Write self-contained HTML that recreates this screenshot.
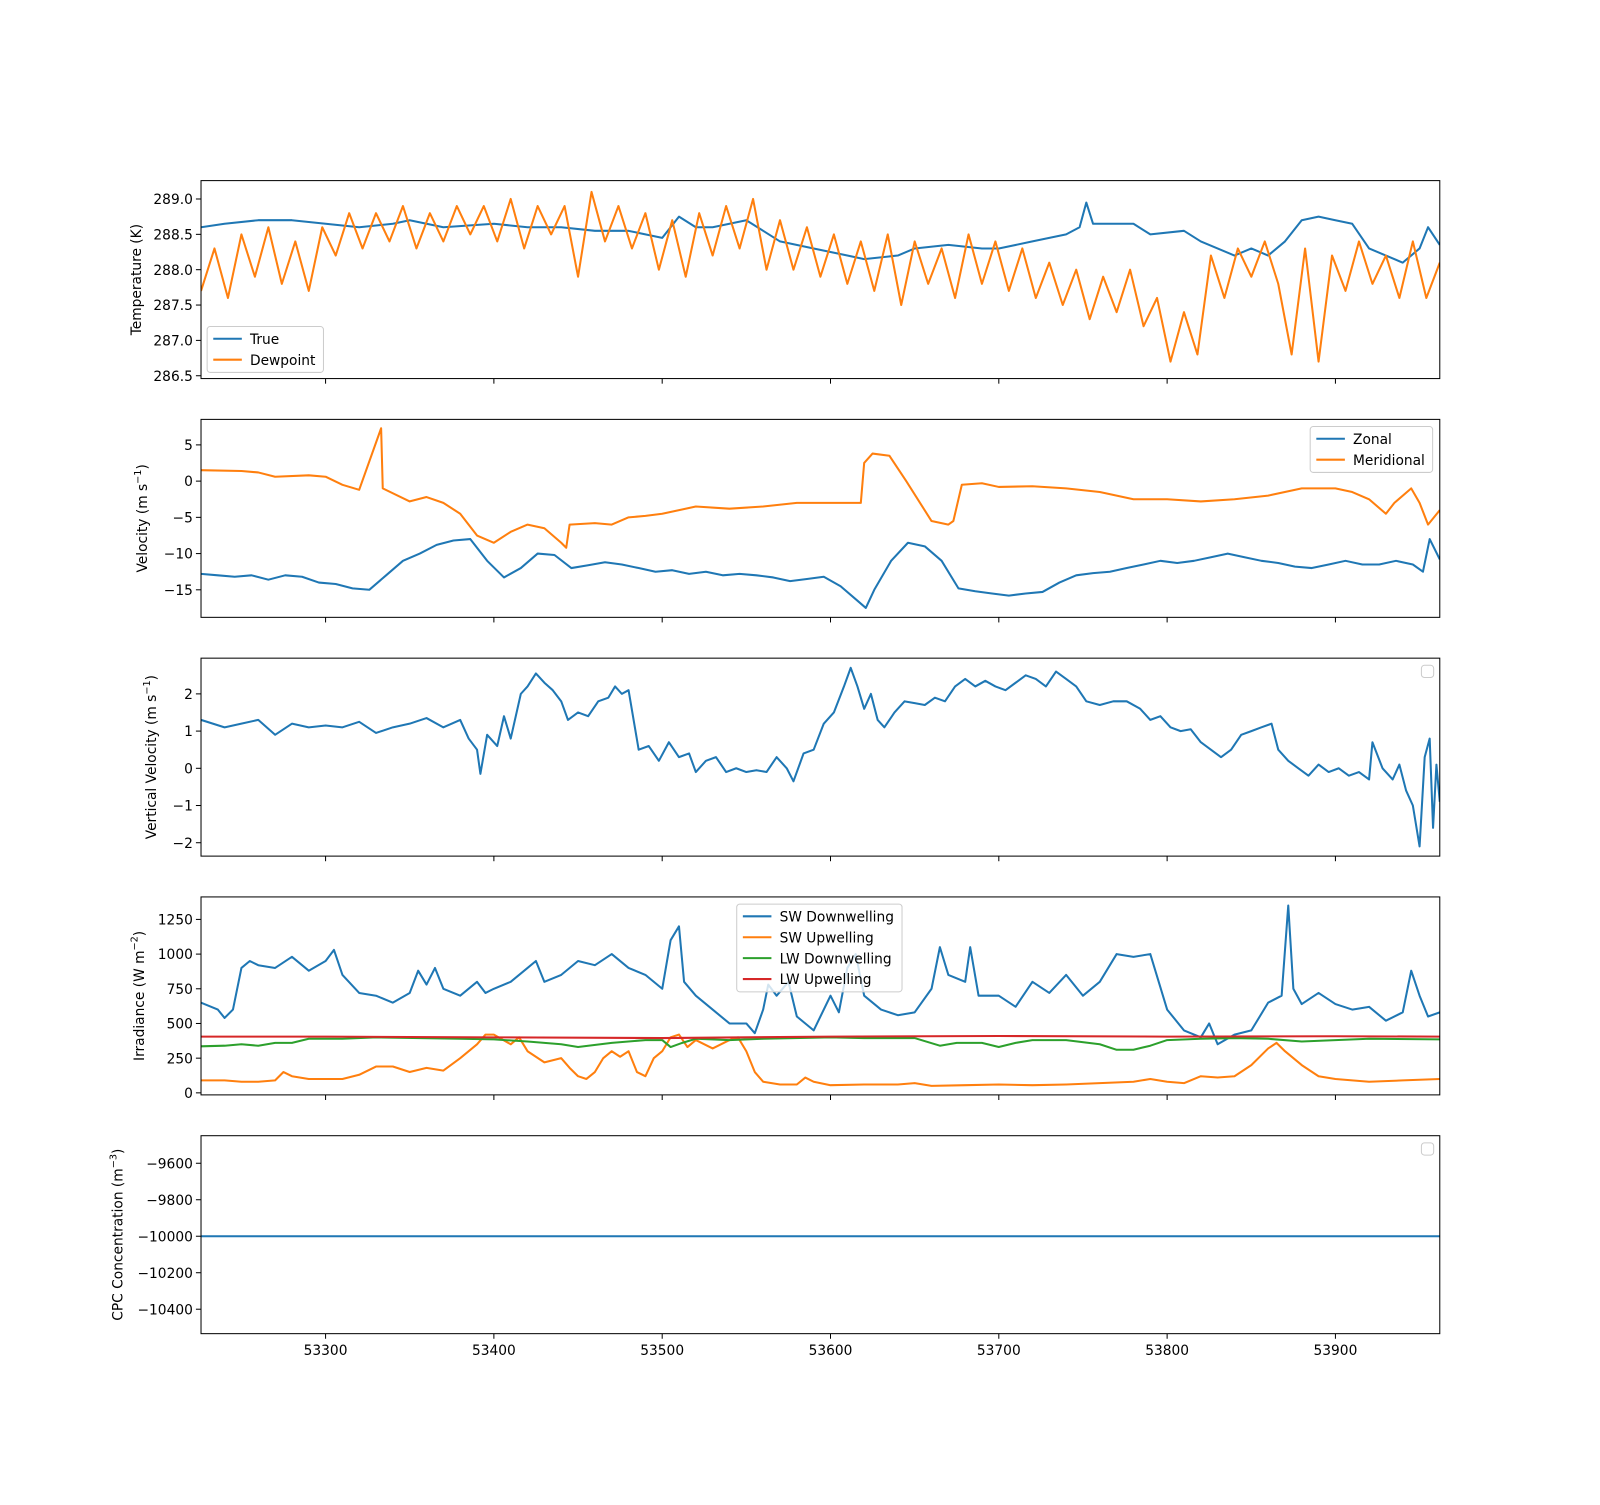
<!DOCTYPE html>
<html><head><meta charset="utf-8"><style>
html,body{margin:0;padding:0;background:#fff}
svg text{font-family:"DejaVu Sans","Liberation Sans",sans-serif;font-size:13.5px;fill:#000}
</style></head><body>
<svg id="fig" width="1600" height="1500" xmlns="http://www.w3.org/2000/svg"><g id="root" transform="scale(1.0204)"></g></svg>
<script>
// ---------- data ----------
const xTicks=[53300,53400,53500,53600,53700,53800,53900];
const tempTrueT=[53226,53240,53260,53280,53300,53320,53340,53350,53370,53400,53420,53440,53460,53480,53490,53500,53510,53520,53530,53550,53560,53570,53590,53610,53620,53640,53650,53670,53690,53700,53720,53740,53748,53752,53756,53760,53780,53790,53810,53820,53840,53850,53860,53870,53880,53890,53900,53910,53920,53930,53940,53950,53955,53962];
const tempTrueV=[288.6,288.65,288.7,288.7,288.65,288.6,288.65,288.7,288.6,288.65,288.6,288.6,288.55,288.55,288.5,288.45,288.75,288.6,288.6,288.7,288.55,288.4,288.3,288.2,288.15,288.2,288.3,288.35,288.3,288.3,288.4,288.5,288.6,288.95,288.65,288.65,288.65,288.5,288.55,288.4,288.2,288.3,288.2,288.4,288.7,288.75,288.7,288.65,288.3,288.2,288.1,288.3,288.6,288.35];
const dewT=[53226,53234,53242,53250,53258,53266,53274,53282,53290,53298,53306,53314,53322,53330,53338,53346,53354,53362,53370,53378,53386,53394,53402,53410,53418,53426,53434,53442,53450,53458,53466,53474,53482,53490,53498,53506,53514,53522,53530,53538,53546,53554,53562,53570,53578,53586,53594,53602,53610,53618,53626,53634,53642,53650,53658,53666,53674,53682,53690,53698,53706,53714,53722,53730,53738,53746,53754,53762,53770,53778,53786,53794,53802,53810,53818,53826,53834,53842,53850,53858,53866,53874,53882,53890,53898,53906,53914,53922,53930,53938,53946,53954,53962];
const dewV=[287.7,288.3,287.6,288.5,287.9,288.6,287.8,288.4,287.7,288.6,288.2,288.8,288.3,288.8,288.4,288.9,288.3,288.8,288.4,288.9,288.5,288.9,288.4,289.0,288.3,288.9,288.5,288.9,287.9,289.1,288.4,288.9,288.3,288.8,288.0,288.7,287.9,288.8,288.2,288.9,288.3,289.0,288.0,288.7,288.0,288.6,287.9,288.5,287.8,288.4,287.7,288.5,287.5,288.4,287.8,288.3,287.6,288.5,287.8,288.4,287.7,288.3,287.6,288.1,287.5,288.0,287.3,287.9,287.4,288.0,287.2,287.6,286.7,287.4,286.8,288.2,287.6,288.3,287.9,288.4,287.8,286.8,288.3,286.7,288.2,287.7,288.4,287.8,288.2,287.6,288.4,287.6,288.1];
const zonalT=[53226,53236,53246,53256,53266,53276,53286,53296,53306,53316,53326,53336,53346,53356,53366,53376,53386,53396,53406,53416,53426,53436,53446,53456,53466,53476,53486,53496,53506,53516,53526,53536,53546,53556,53566,53576,53586,53596,53606,53616,53621,53626,53636,53646,53656,53666,53676,53686,53696,53706,53716,53726,53736,53746,53756,53766,53776,53786,53796,53806,53816,53826,53836,53846,53856,53866,53876,53886,53896,53906,53916,53926,53936,53946,53952,53956,53962];
const zonalV=[-12.8,-13,-13.2,-13,-13.6,-13,-13.2,-14,-14.2,-14.8,-15,-13,-11,-10,-8.8,-8.2,-8,-11,-13.3,-12,-10,-10.2,-12,-11.6,-11.2,-11.5,-12,-12.5,-12.3,-12.8,-12.5,-13,-12.8,-13,-13.3,-13.8,-13.5,-13.2,-14.5,-16.5,-17.5,-15,-11,-8.5,-9,-11,-14.8,-15.2,-15.5,-15.8,-15.5,-15.3,-14,-13,-12.7,-12.5,-12,-11.5,-11,-11.3,-11,-10.5,-10,-10.5,-11,-11.3,-11.8,-12,-11.5,-11,-11.5,-11.5,-11,-11.5,-12.5,-8,-10.8];
const meridT=[53226,53250,53260,53270,53290,53300,53310,53320,53333,53334,53350,53360,53370,53380,53390,53400,53410,53420,53430,53440,53443,53445,53460,53470,53480,53490,53500,53520,53540,53560,53580,53600,53618,53620,53625,53635,53645,53660,53670,53673,53678,53690,53700,53720,53740,53760,53780,53800,53820,53840,53860,53880,53900,53910,53920,53930,53935,53945,53950,53955,53962];
const meridV=[1.5,1.4,1.2,0.6,0.8,0.6,-0.5,-1.2,7.3,-1,-2.8,-2.2,-3,-4.5,-7.5,-8.5,-7,-6,-6.5,-8.5,-9.2,-6,-5.8,-6,-5,-4.8,-4.5,-3.5,-3.8,-3.5,-3,-3,-3,2.5,3.8,3.5,0,-5.5,-6,-5.5,-0.5,-0.3,-0.8,-0.7,-1,-1.5,-2.5,-2.5,-2.8,-2.5,-2,-1,-1,-1.5,-2.5,-4.5,-3,-1,-3,-6,-4];
const vertT=[53226,53240,53250,53260,53270,53280,53290,53300,53310,53320,53330,53340,53350,53360,53370,53380,53385,53390,53392,53396,53402,53406,53410,53416,53420,53425,53430,53435,53440,53444,53450,53456,53462,53468,53472,53476,53480,53486,53492,53498,53504,53510,53516,53520,53526,53532,53538,53544,53550,53556,53562,53568,53574,53578,53584,53590,53596,53602,53608,53612,53616,53620,53624,53628,53632,53638,53644,53650,53656,53662,53668,53674,53680,53686,53692,53698,53704,53710,53716,53722,53728,53734,53740,53746,53752,53760,53768,53776,53784,53790,53796,53802,53808,53814,53820,53826,53832,53838,53844,53850,53856,53862,53866,53872,53878,53884,53890,53896,53902,53908,53914,53920,53922,53928,53934,53938,53942,53946,53950,53953,53956,53958,53960,53962];
const vertV=[1.3,1.1,1.2,1.3,0.9,1.2,1.1,1.15,1.1,1.25,0.95,1.1,1.2,1.35,1.1,1.3,0.8,0.5,-0.15,0.9,0.6,1.4,0.8,2.0,2.2,2.55,2.3,2.1,1.8,1.3,1.5,1.4,1.8,1.9,2.2,2.0,2.1,0.5,0.6,0.2,0.7,0.3,0.4,-0.1,0.2,0.3,-0.1,0.0,-0.1,-0.05,-0.1,0.3,0.0,-0.35,0.4,0.5,1.2,1.5,2.2,2.7,2.2,1.6,2.0,1.3,1.1,1.5,1.8,1.75,1.7,1.9,1.8,2.2,2.4,2.2,2.35,2.2,2.1,2.3,2.5,2.4,2.2,2.6,2.4,2.2,1.8,1.7,1.8,1.8,1.6,1.3,1.4,1.1,1.0,1.05,0.7,0.5,0.3,0.5,0.9,1.0,1.1,1.2,0.5,0.2,0.0,-0.2,0.1,-0.1,0.0,-0.2,-0.1,-0.3,0.7,0.0,-0.3,0.1,-0.6,-1.0,-2.1,0.3,0.8,-1.6,0.1,-0.9];
const swdT=[53226,53236,53240,53245,53250,53255,53260,53270,53280,53290,53300,53305,53310,53320,53330,53340,53350,53355,53360,53365,53370,53380,53390,53395,53400,53410,53420,53425,53430,53440,53450,53460,53470,53480,53490,53500,53505,53510,53513,53520,53530,53540,53550,53555,53560,53563,53568,53575,53580,53590,53600,53605,53610,53615,53620,53630,53640,53650,53660,53665,53670,53680,53683,53688,53700,53710,53720,53730,53740,53750,53760,53770,53780,53790,53800,53810,53820,53825,53830,53840,53850,53860,53868,53872,53875,53880,53890,53900,53910,53920,53930,53940,53945,53950,53955,53962];
const swdV=[650,600,540,600,900,950,920,900,980,880,950,1030,850,720,700,650,720,880,780,900,750,700,800,720,750,800,900,950,800,850,950,920,1000,900,850,750,1100,1200,800,700,600,500,500,430,600,780,700,800,550,450,700,580,900,1000,700,600,560,580,750,1050,850,800,1050,700,700,620,800,720,850,700,800,1000,980,1000,600,450,400,500,350,420,450,650,700,1350,750,640,720,640,600,620,520,580,880,700,550,580];
const swuT=[53226,53240,53250,53260,53270,53275,53280,53290,53310,53320,53330,53340,53350,53360,53370,53380,53390,53395,53400,53410,53415,53420,53430,53440,53445,53450,53455,53460,53465,53470,53475,53480,53485,53490,53495,53500,53505,53510,53515,53520,53530,53540,53545,53550,53555,53560,53570,53580,53585,53590,53600,53620,53640,53650,53660,53680,53700,53720,53740,53760,53780,53790,53800,53810,53820,53830,53840,53850,53860,53865,53870,53880,53890,53900,53920,53940,53962];
const swuV=[90,90,80,80,90,150,120,100,100,130,190,190,150,180,160,250,350,420,420,350,400,300,220,250,180,120,100,150,250,300,260,300,150,120,250,300,400,420,330,380,320,380,400,300,150,80,60,60,110,80,55,60,60,70,50,55,60,55,60,70,80,100,80,70,120,110,120,200,320,360,300,200,120,100,80,90,100];
const lwdT=[53226,53240,53250,53260,53270,53280,53290,53310,53330,53380,53400,53420,53440,53450,53470,53490,53500,53505,53512,53520,53540,53560,53600,53620,53650,53665,53675,53690,53700,53710,53720,53740,53760,53770,53780,53790,53800,53820,53840,53860,53880,53900,53920,53962];
const lwdV=[335,340,350,340,360,360,390,390,400,390,385,370,350,330,360,380,380,330,360,390,380,390,400,395,395,340,360,360,330,360,380,380,350,310,310,340,380,390,395,390,370,380,390,385];
const lwuT=[53226,53300,53400,53500,53600,53700,53800,53900,53962];
const lwuV=[405,405,400,395,405,410,405,408,405];
const cpcT=[53226,53962];
const cpcV=[-10000,-10000];

// ---------- drawing ----------
const svg=document.getElementById('root');
const NS='http://www.w3.org/2000/svg';
const X0=197,X1=1411,XMIN=53226,XMAX=53962;
const xs=v=>X0+(v-XMIN)/(XMAX-XMIN)*(X1-X0);
const C={b:'#1f77b4',o:'#ff7f0e',g:'#2ca02c',r:'#d62728'};
function mk(tag,attrs,parent){const e=document.createElementNS(NS,tag);for(const k in attrs)e.setAttribute(k,attrs[k]);(parent||svg).appendChild(e);return e;}
function panel(name,top,bot,ymin,ymax,yticks,fmt,label,labelX,showX){
  const g=mk('g',{});
  
  
  const ys=v=>bot-(v-ymin)/(ymax-ymin)*(bot-top);
  for(const t of yticks){const y=ys(t);
    mk('line',{x1:X0-5,x2:X0,y1:y,y2:y,stroke:'#000','stroke-width':1},g);
    const tx=mk('text',{x:X0-8,y:y+5,'text-anchor':'end'},g);tx.textContent=fmt(t);
    
    }
  for(const t of xTicks){const x=xs(t);
    mk('line',{x1:x,x2:x,y1:bot,y2:bot+5,stroke:'#000','stroke-width':1},g);
    if(showX){const tx=mk('text',{x:x,y:bot+21,'text-anchor':'middle'},g);tx.textContent=t;
      
      }}
  const lb=mk('text',{x:labelX,y:(top+bot)/2,'text-anchor':'middle',transform:`rotate(-90 ${labelX} ${(top+bot)/2})`},g);
  lb.innerHTML=label;
  
  
  const cid='clip'+top;
  const cp=mk('clipPath',{id:cid},g);mk('rect',{x:X0,y:top,width:X1-X0,height:bot-top},cp);
  const series=(T,V,col,nm)=>{const p=mk('polyline',{points:T.map((t,i)=>xs(t).toFixed(1)+','+ys(V[i]).toFixed(1)).join(' '),fill:'none',stroke:col,'stroke-width':2,'stroke-linejoin':'round','clip-path':`url(#${cid})`},g);
    
    };
  const frame=()=>{const r=mk('rect',{x:X0,y:top,width:X1-X0,height:bot-top,fill:'none',stroke:'#000','stroke-width':1},g);
    
    };
  return {g,series,frame};
}
function legend(g,x,y,w,entries,name){
  const h=entries.length?entries.length*20.5+4:12;
  const r=mk('rect',{x:x,y:y,width:w,height:h,rx:3,fill:'#fff','fill-opacity':0.8,stroke:'#ccc','stroke-width':1},g);
  
  
  entries.forEach((e,i)=>{const yy=y+12+i*20.5;
    mk('line',{x1:x+6,x2:x+34,y1:yy,y2:yy,stroke:e[1],'stroke-width':2},g);
    const t=mk('text',{x:x+42,y:yy+5},g);t.textContent=e[0];
    
    });
}
const f1=v=>v.toFixed(1), f0=v=>v<0?'\u2212'+Math.abs(v):String(v);
let p=panel('temperature-panel',177,371,286.46,289.26,[286.5,287,287.5,288,288.5,289],f1,'Temperature (K)',138,false);
p.series(tempTrueT,tempTrueV,C.b,'true-temp-line');p.series(dewT,dewV,C.o,'dewpoint-line');p.frame();
legend(p.g,203,320,114,[['True',C.b],['Dewpoint',C.o]],'temperature-legend');
p=panel('velocity-panel',411,605,-18.8,8.52,[-15,-10,-5,0,5],f0,'Velocity (m s<tspan dy="-6" font-size="9.5">\u22121</tspan><tspan dy="6">)</tspan>',144,false);
p.series(zonalT,zonalV,C.b,'zonal-line');p.series(meridT,meridV,C.o,'meridional-line');p.frame();
legend(p.g,1284,418,120,[['Zonal',C.b],['Meridional',C.o]],'velocity-legend');
p=panel('vertical-velocity-panel',645,839,-2.36,2.96,[-2,-1,0,1,2],f0,'Vertical Velocity (m s<tspan dy="-6" font-size="9.5">\u22121</tspan><tspan dy="6">)</tspan>',153,false);
p.series(vertT,vertV,C.b,'vertical-velocity-line');p.frame();
legend(p.g,1393,652,12,[],'vertical-velocity-legend');
p=panel('irradiance-panel',879,1073,-14.7,1412,[0,250,500,750,1000,1250],f0,'Irradiance (W m<tspan dy="-6" font-size="9.5">\u22122</tspan><tspan dy="6">)</tspan>',141,false);
p.series(swdT,swdV,C.b,'sw-downwelling-line');p.series(swuT,swuV,C.o,'sw-upwelling-line');p.series(lwdT,lwdV,C.g,'lw-downwelling-line');p.series(lwuT,lwuV,C.r,'lw-upwelling-line');p.frame();
legend(p.g,722,886,162,[['SW Downwelling',C.b],['SW Upwelling',C.o],['LW Downwelling',C.g],['LW Upwelling',C.r]],'irradiance-legend');
p=panel('cpc-panel',1113,1307,-10534,-9449,[-10400,-10200,-10000,-9800,-9600],f0,'CPC Concentration (m<tspan dy="-6" font-size="9.5">\u22123</tspan><tspan dy="6">)</tspan>',120,true);
p.series(cpcT,cpcV,C.b,'cpc-line');p.frame();
legend(p.g,1393,1120,12,[],'cpc-legend');
</script>
</body></html>
